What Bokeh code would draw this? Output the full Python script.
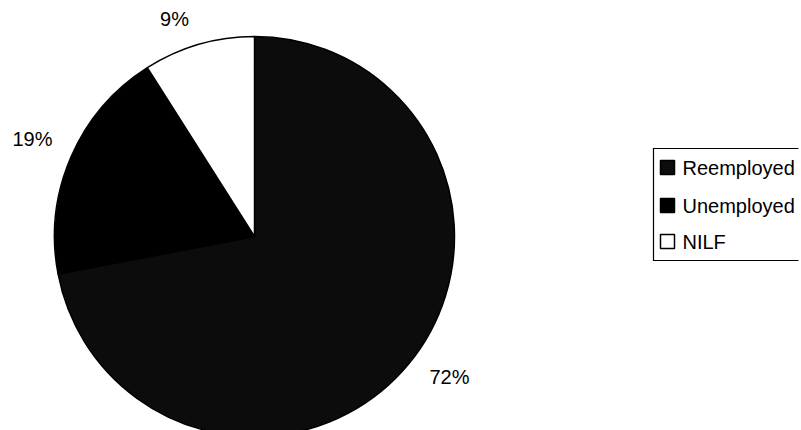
from math import pi

from bokeh.core.properties import value
from bokeh.embed import file_html
from bokeh.models import ColumnDataSource, Range1d
from bokeh.plotting import figure
from bokeh.resources import INLINE

# Labour-market status shares (percent)
categories = ["Reemployed", "Unemployed", "NILF"]
shares = [72, 19, 9]
colors = ["#0c0c0c", "#000000", "#ffffff"]

W, H = 801, 430
FONT = "Liberation Sans"

p = figure(width=W, height=H, x_range=Range1d(0, W), y_range=Range1d(0, H),
           x_axis_type=None, y_axis_type=None, output_backend="svg",
           toolbar_location=None, min_border=0)
p.grid.visible = False
p.outline_line_color = None
p.background_fill_color = "white"
p.border_fill_color = "white"

# Pie, starting at twelve o'clock and running clockwise
cx, cy, R = 254, H - 236, 200
total = float(sum(shares))
starts, ends, cum = [], [], 0.0
for s in shares:
    starts.append(pi / 2 - 2 * pi * cum / total)
    cum += s
    ends.append(pi / 2 - 2 * pi * cum / total)

src = ColumnDataSource(dict(cat=categories, share=shares, color=colors,
                            start=starts, end=ends))
p.wedge(x=cx, y=cy, radius=R, start_angle="start", end_angle="end",
        direction="clock", fill_color="color", line_color="black",
        line_width=1.5, source=src)

# Percentage labels outside the pie
label_pos = [(449, H - 376), (32, H - 138), (174, H - 18)]
p.text(x=[q[0] for q in label_pos], y=[q[1] for q in label_pos],
       text=[f"{s}%" for s in shares], text_align="center",
       text_baseline="middle", text_font=value(FONT),
       text_font_size="20px", text_color="black")

# Legend box: open on the right, where it meets the page edge
bl, bt, bb, br = 653, H - 148, H - 260, W - 3
p.line(x=[br, bl, bl, br], y=[bt, bt, bb, bb], line_color="black",
       line_width=1.2, line_join="miter")
leg_y = [H - 167, H - 205, H - 241]
p.rect(x=[667] * 3, y=leg_y, width=14, height=14, fill_color=colors,
       line_color="black", line_width=1.5)
p.text(x=[682] * 3, y=leg_y, text=categories, text_align="left",
       text_baseline="middle", text_font=value(FONT),
       text_font_size="20px", text_color="black")

open("out.html", "w").write(file_html(p, INLINE))
